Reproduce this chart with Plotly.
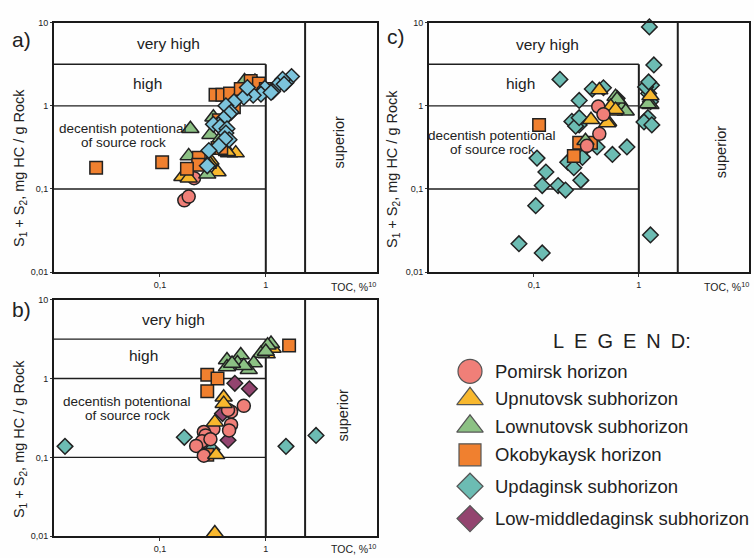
import plotly.graph_objects as go

W, H = 754, 558
FONT = "Liberation Sans, Arial, sans-serif"
INK = "#222222"

# ---------------- data: TOC (%) and S1+S2 (mg HC / g Rock) ----------------
# panel a
a_pomirsk_toc = [0.17, 0.187, 0.21]
a_pomirsk_s12 = [0.073, 0.081, 0.135]
a_upnut_toc = [0.45, 0.52, 0.35, 0.163, 0.187, 0.30, 0.29, 0.43]
a_upnut_s12 = [0.27, 0.27, 0.16, 0.14, 0.135, 0.22, 0.21, 0.28]
a_lownut_toc = [0.194, 0.30, 0.37, 0.187, 0.284, 0.28, 0.63, 0.79, 0.32]
a_lownut_s12 = [0.53, 0.45, 0.40, 0.25, 0.197, 0.15, 1.99, 1.96, 0.73]
a_okobyk_toc = [0.025, 0.105, 0.335, 0.389, 0.459, 0.58, 0.72, 0.86, 1.0, 0.50,
                0.36, 0.35, 0.38, 0.233, 0.23, 0.18]
a_okobyk_s12 = [0.18, 0.21, 1.36, 1.36, 1.41, 1.59, 1.99, 1.85, 1.59, 0.96,
                0.67, 0.31, 0.31, 0.237, 0.195, 0.175]
a_updag_toc = [1.75, 1.55, 1.44, 1.29, 1.16, 0.98, 0.90, 0.76, 0.62, 0.50, 0.42,
               0.47, 0.45, 0.40, 0.36, 0.32, 0.37, 0.43, 0.42, 0.45, 0.41, 0.36,
               0.29, 0.28, 0.67, 1.49, 1.12]
a_updag_s12 = [2.25, 1.90, 2.08, 1.78, 1.49, 1.63, 1.38, 1.34, 1.27, 1.12, 1.0,
               0.84, 0.80, 0.70, 0.59, 0.60, 0.56, 0.53, 0.47, 0.39, 0.40, 0.33,
               0.29, 0.19, 1.66, 1.82, 1.45]

# panel b
b_updag_toc = [0.0127, 0.17, 0.31, 1.55, 2.98]
b_updag_s12 = [0.138, 0.18, 0.125, 0.138, 0.19]
b_lowmid_toc = [0.51, 0.70, 0.39, 0.44]
b_lowmid_s12 = [0.87, 0.74, 0.36, 0.165]
b_okobyk_toc = [1.66, 0.28, 0.35, 0.28, 0.28]
b_okobyk_s12 = [2.62, 1.12, 1.0, 0.69, 0.108]
b_pomirsk_toc = [0.47, 0.62, 0.44, 0.47, 0.45, 0.32, 0.26, 0.27, 0.25, 0.22, 0.26, 0.30]
b_pomirsk_s12 = [0.38, 0.45, 0.40, 0.26, 0.22, 0.23, 0.21, 0.19, 0.16, 0.14, 0.105, 0.17]
b_upnut_toc = [1.02, 1.16, 0.40, 0.40, 0.33, 0.34, 0.33]
b_upnut_s12 = [2.04, 2.40, 0.58, 0.48, 0.28, 0.108, 0.011]
b_lownut_toc = [1.12, 1.04, 0.90, 0.58, 0.43, 0.54, 0.77, 0.69, 0.43, 0.62, 1.0, 0.48]
b_lownut_s12 = [2.77, 2.64, 2.08, 1.99, 1.72, 1.57, 1.57, 1.29, 1.40, 1.45, 2.20, 1.55]

# panel c
c_updag_toc = [1.26, 1.39, 1.32, 1.24, 1.29, 1.22, 1.12, 1.33, 1.29, 0.177, 0.36,
               0.46, 0.27, 0.23, 0.27, 0.107, 0.13, 0.12, 0.17, 0.20, 0.104, 0.072,
               0.12, 0.21, 0.24, 0.28, 0.29, 0.56, 0.77, 0.32, 0.40, 1.16, 0.62,
               0.25, 0.27, 1.24]
c_updag_s12 = [8.9, 3.1, 1.77, 1.41, 1.12, 0.72, 0.64, 0.59, 0.028, 2.08, 1.59,
               1.65, 1.16, 0.65, 0.59, 0.235, 0.16, 0.11, 0.11, 0.097, 0.063, 0.022,
               0.017, 0.21, 0.18, 0.127, 0.24, 0.26, 0.32, 0.33, 0.32, 1.69, 1.23,
               0.57, 0.72, 1.94]
c_okobyk_toc = [0.112, 0.24, 0.27, 0.35]
c_okobyk_s12 = [0.59, 0.25, 0.36, 0.36]
c_lownut_toc = [0.60, 0.65, 0.69, 0.75, 1.29, 1.22, 0.31, 0.62]
c_lownut_s12 = [1.29, 1.12, 0.94, 0.86, 1.03, 1.05, 0.38, 1.20]
c_upnut_toc = [0.42, 1.29, 0.35, 0.58, 0.51, 0.54, 0.60, 0.50]
c_upnut_s12 = [1.55, 1.31, 0.68, 0.86, 0.64, 0.98, 0.90, 0.62]
c_pomirsk_toc = [0.41, 0.46, 0.42, 0.32]
c_pomirsk_s12 = [0.98, 0.79, 0.46, 0.33]

# class boundaries
Y_HIGH_TOP = 10 ** 0.5
Y_DECENT_TOP = 1.0
Y_DECENT_BOTTOM = 0.1
X_GOOD = 1.0
X_SUPERIOR = 2.35

# axis ticks
Y_TICKVALS = [10, 1, 0.1, 0.01]
Y_TICKTEXT = ["10", "1", "0,1", "0,01"]
X_TICKVALS = [0.1, 1]
X_TICKTEXT = ["0,1", "1"]

# ---------------- styles ----------------
UNITS = ["pomirsk", "upnut", "lownut", "okobyk", "updag", "lowmid"]
NAMES = {
    "pomirsk": "Pomirsk horizon",
    "upnut": "Upnutovsk subhorizon",
    "lownut": "Lownutovsk subhorizon",
    "okobyk": "Okobykaysk horizon",
    "updag": "Updaginsk subhorizon",
    "lowmid": "Low-middledaginsk subhorizon",
}
COLORS = {
    "pomirsk": "#f07f78",
    "upnut": "#f8b82e",
    "lownut": "#8cc184",
    "okobyk": "#f0802f",
    "updag": "#6cbcb3",
    "lowmid": "#93446f",
}
UPDAG_BLUE = "#7cc4dc"
SYMBOLS = {
    "pomirsk": "circle",
    "upnut": "triangle-up",
    "lownut": "triangle-up",
    "okobyk": "square",
    "updag": "diamond",
    "lowmid": "diamond",
}
SIZES = {"pomirsk": 13, "upnut": 15, "lownut": 15, "okobyk": 12.5, "updag": 12, "lowmid": 12}
LEG_SIZES = {"pomirsk": 24, "upnut": 23, "lownut": 23, "okobyk": 22, "updag": 20, "lowmid": 20}


def px(x, y):
    """pixel position -> paper coordinates"""
    return x / W, 1 - y / H


fig = go.Figure()

panels = [
    # (xaxis, yaxis, series in drawing order)
    ("x", "y", [
        ("pomirsk", a_pomirsk_toc, a_pomirsk_s12, None),
        ("upnut", a_upnut_toc, a_upnut_s12, None),
        ("lownut", a_lownut_toc, a_lownut_s12, None),
        ("okobyk", a_okobyk_toc, a_okobyk_s12, None),
        ("updag", a_updag_toc, a_updag_s12, UPDAG_BLUE),
    ]),
    ("x2", "y2", [
        ("updag", b_updag_toc, b_updag_s12, None),
        ("lowmid", b_lowmid_toc, b_lowmid_s12, None),
        ("okobyk", b_okobyk_toc, b_okobyk_s12, None),
        ("pomirsk", b_pomirsk_toc, b_pomirsk_s12, None),
        ("upnut", b_upnut_toc, b_upnut_s12, None),
        ("lownut", b_lownut_toc, b_lownut_s12, None),
    ]),
    ("x3", "y3", [
        ("updag", c_updag_toc, c_updag_s12, None),
        ("okobyk", c_okobyk_toc, c_okobyk_s12, None),
        ("lownut", c_lownut_toc, c_lownut_s12, None),
        ("upnut", c_upnut_toc, c_upnut_s12, None),
        ("pomirsk", c_pomirsk_toc, c_pomirsk_s12, None),
    ]),
]

for xa, ya, series in panels:
    for unit, toc, s12, color in series:
        fig.add_trace(go.Scatter(
            x=toc, y=s12, xaxis=xa, yaxis=ya, mode="markers",
            name=NAMES[unit], showlegend=False, cliponaxis=False,
            marker=dict(symbol=SYMBOLS[unit], size=SIZES[unit],
                        color=color or COLORS[unit],
                        line=dict(color="#222222", width=1.5)),
        ))

    # potential class boundaries
    seg = [
        (0.01, Y_HIGH_TOP, X_GOOD, Y_HIGH_TOP),
        (0.01, Y_DECENT_TOP, X_GOOD, Y_DECENT_TOP),
        (0.01, Y_DECENT_BOTTOM, X_GOOD, Y_DECENT_BOTTOM),
        (X_GOOD, 0.01, X_GOOD, Y_HIGH_TOP),
        (X_SUPERIOR, 0.01, X_SUPERIOR, 10),
    ]
    for i, (x0, y0, x1, y1) in enumerate(seg):
        w = 2 if i >= 3 else 1.3
        fig.add_shape(type="line", xref=xa, yref=ya, x0=x0, y0=y0, x1=x1, y1=y1,
                      line=dict(color="#1e1e1e", width=w), layer="below")

# ---------------- axes ----------------
dom = {
    "a": dict(x=(54, 377), y=(18, 272)),
    "b": dict(x=(54, 377), y=(300, 541)),
    "c": dict(x=(429, 749), y=(18, 272)),
}
axis_common = dict(type="log", showgrid=False, zeroline=False, showline=True,
                   mirror=True, linecolor="#1a1a1a", linewidth=2)
for key, (xk, yk) in zip("abc", [("xaxis", "yaxis"), ("xaxis2", "yaxis2"), ("xaxis3", "yaxis3")]):
    d = dom[key]
    yname = yk.replace("axis", "")
    xname = xk.replace("axis", "")
    fig.layout[xk] = dict(axis_common, domain=[d["x"][0] / W, d["x"][1] / W],
                          range=[-2, 1.05], anchor=yname,
                          tickvals=X_TICKVALS, ticktext=X_TICKTEXT,
                          ticks="outside", ticklen=3, tickwidth=1, tickcolor="#333",
                          tickfont=dict(size=9, color=INK, family=FONT))
    fig.layout[yk] = dict(axis_common, domain=[1 - d["y"][1] / H, 1 - d["y"][0] / H],
                          range=[-2, 1], anchor=xname,
                          tickvals=Y_TICKVALS, ticktext=Y_TICKTEXT,
                          ticks="outside", ticklen=2, tickwidth=1, tickcolor="#333",
                          tickfont=dict(size=9, color=INK, family=FONT))

# legend symbol axis, in pixel units over the bottom-right block only
LEG_BOX_X = (430, W)
LEG_BOX_Y = (300, H)
fig.layout["xaxis4"] = dict(domain=[LEG_BOX_X[0] / W, 1], range=list(LEG_BOX_X),
                            visible=False, anchor="y4", fixedrange=True)
fig.layout["yaxis4"] = dict(domain=[0, 1 - LEG_BOX_Y[0] / H], range=[LEG_BOX_Y[1], LEG_BOX_Y[0]],
                            visible=False, anchor="x4", fixedrange=True)

LEGEND_X = 470
LEGEND_ROWS = [373, 401, 429, 458, 490, 523]
for unit, row in zip(UNITS, LEGEND_ROWS):
    fig.add_trace(go.Scatter(
        x=[LEGEND_X], y=[row], xaxis="x4", yaxis="y4", mode="markers",
        showlegend=False, hoverinfo="skip", cliponaxis=False,
        marker=dict(symbol=SYMBOLS[unit], size=LEG_SIZES[unit], color=COLORS[unit],
                    line=dict(color="#555555", width=1.2)),
    ))

annotations = []


def add_text(x, y, text, size, angle=0, xanchor="center", yanchor="middle", color=INK):
    ax, ay = px(x, y)
    annotations.append(dict(
        x=ax, y=ay, xref="paper", yref="paper", text=text, showarrow=False,
        textangle=angle, xanchor=xanchor, yanchor=yanchor,
        font=dict(size=size, color=color, family=FONT),
    ))


ytitle = "S<sub>1</sub> + S<sub>2</sub>, mg HC / g Rock"

# panel a
add_text(21, 35, "a)", 21)
add_text(168, 39, "very high", 15.5)
add_text(147, 80, "high", 15.5)
add_text(123, 126, "decentish potentional", 13.5)
add_text(123, 140, "of source rock", 13.5)
add_text(339, 140, "superior", 14.5, angle=-90)
add_text(20, 166, ytitle, 14.5, angle=-90)
add_text(378, 287, "TOC, %<sup>10</sup>", 10.5, xanchor="right")

# panel b
add_text(21, 310, "b)", 21)
add_text(173, 320, "very high", 15.5)
add_text(143, 357, "high", 15.5)
add_text(127, 404, "decentish potentional", 13.5)
add_text(127, 418, "of source rock", 13.5)
add_text(343, 418, "superior", 14.5, angle=-90)
add_text(20, 442, ytitle, 14.5, angle=-90)
add_text(378, 553, "TOC, %<sup>10</sup>", 10.5, xanchor="right")

# panel c
add_text(396, 32, "c)", 21)
add_text(547, 40, "very high", 15.5)
add_text(520, 80, "high", 15.5)
add_text(492, 133, "decentish potentional", 13.5)
add_text(492, 147, "of source rock", 13.5)
add_text(721, 150, "superior", 14.5, angle=-90)
add_text(393, 167, ytitle, 14.5, angle=-90)
add_text(751, 287, "TOC, %<sup>10</sup>", 10.5, xanchor="right")

# legend
add_text(622, 342, "L\u2002E\u2002G\u2002E\u2002N\u2002D:", 20)
for unit, row in zip(UNITS, LEGEND_ROWS):
    add_text(493, row, NAMES[unit], 18.5, xanchor="left")

fig.update_layout(
    width=W, height=H, margin=dict(l=0, r=0, t=0, b=0),
    paper_bgcolor="#fefefe", plot_bgcolor="rgba(0,0,0,0)",
    showlegend=False, annotations=annotations,
    font=dict(family=FONT, color=INK),
)

fig.write_html("out.html")
